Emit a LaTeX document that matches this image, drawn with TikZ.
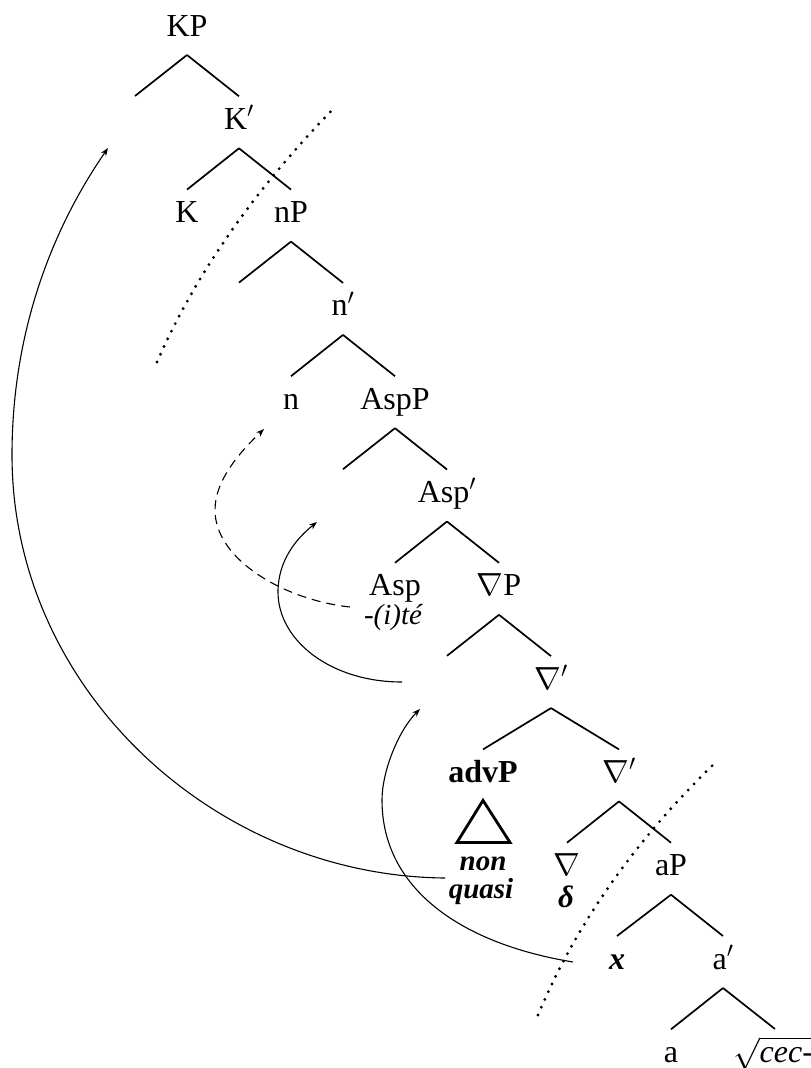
\RequirePackage{fix-cm}
\documentclass[tikz,border=0pt]{standalone}
\usepackage{fontspec}
\setmainfont{Liberation Serif}
\usetikzlibrary{calc,arrows.meta}
\newcommand\tbr[2]{\draw[edge] ($(#1.base)+(0,19)$) -- ($(#2.base)+(0,-33)$);}
\begin{document}
\begin{tikzpicture}[x=1pt,y=-1pt,
  lbl/.style={anchor=base,inner sep=0pt,font=\fontsize{32}{36}\selectfont},
  edge/.style={line width=1.7pt},
  mv/.style={line width=1.1pt,-{Stealth[length=8pt,width=6pt]}},
  dmv/.style={mv,dash pattern=on 9pt off 6pt},
  dots/.style={line width=3.2pt,line cap=round,dash pattern=on 0pt off 8.5pt},
  tri/.style={line width=2.8pt,line join=miter}]
\useasboundingbox (0,0) rectangle (811,1068);
% nodes
\node[lbl] (KP) at (187,36) {KP};
\coordinate (KPspec) at (135,96);
\node[lbl] (Kb) at (239,129.3) {K$'$};
\node[lbl] (K) at (187,222.6) {K};
\node[lbl] (nP) at (291,222.6) {nP};
\node[lbl] (nb) at (343,315.9) {n$'$};
\node[lbl] (n) at (291,409.2) {n};
\node[lbl] (AspP) at (395,409.2) {AspP};
\node[lbl] (Aspb) at (447,502.5) {Asp$'$};
\node[lbl] (Asp) at (395,595.8) {Asp};
\node[lbl,font=\fontsize{29}{33}\selectfont\itshape] (Aff) at (393,624) {-(i)té};
\node[lbl] (NP) at (499,595.8) {$\nabla$P};
\node[lbl] (Nb) at (551,689.1) {$\nabla'$};
\node[lbl,font=\fontsize{32}{36}\selectfont\bfseries] (advP) at (483,782.4) {advP};
\node[lbl,font=\fontsize{29}{33}\selectfont\bfseries\itshape] (non) at (483,870) {non};
\node[lbl,font=\fontsize{29}{33}\selectfont\bfseries\itshape] (quasi) at (481,898) {quasi};
\node[lbl] (Nbb) at (619,782.4) {$\nabla'$};
\node[lbl] (N) at (567,875.7) {$\nabla$};
\node[lbl,font=\fontsize{31}{35}\selectfont\bfseries\itshape] (delta) at (566,907) {δ};
\node[lbl] (aP) at (671,875.7) {aP};
\node[lbl,font=\fontsize{32}{36}\selectfont\bfseries\itshape] (x) at (617,969) {x};
\node[lbl] (ab) at (723,969) {a$'$};
\node[lbl] (a) at (671,1062.3) {a};
\node[lbl] (root) at (773,1062.3) {$\sqrt{\mbox{\itshape cec-}}$};
% branches
\draw[edge] ($(KP.base)+(0,19)$) -- (KPspec);
\tbr{KP}{Kb}
\tbr{Kb}{K}
\tbr{Kb}{nP}
\draw[edge] ($(nP.base)+(0,19)$) -- ++(-52,41);
\tbr{nP}{nb}
\tbr{nb}{n}
\tbr{nb}{AspP}
\draw[edge] ($(AspP.base)+(0,19)$) -- ++(-52,41);
\tbr{AspP}{Aspb}
\tbr{Aspb}{Asp}
\tbr{Aspb}{NP}
\draw[edge] ($(NP.base)+(0,19)$) -- ++(-52,41);
\tbr{NP}{Nb}
\tbr{Nb}{advP}
\tbr{Nb}{Nbb}
\tbr{Nbb}{N}
\tbr{Nbb}{aP}
\tbr{aP}{x}
\tbr{aP}{ab}
\tbr{ab}{a}
\draw[edge] ($(ab.base)+(0,19)$) -- ++(52,41);
% triangle
\draw[tri] ($(advP.base)+(0,18)$) -- ($(advP.base)+(-26,60)$) -- ($(advP.base)+(27,60)$) -- cycle;
% dotted boundaries
\draw[dots] (157,362) .. controls (196,273) and (256,188) .. (335,107);
\draw[dots] (538,1015) .. controls (576,924) and (636,839) .. (717,761);
% movement arrows
\coordinate (m1s) at (445,878);
\coordinate (m1e) at (108,148);
\draw[mv] (m1s) .. controls (215,876) and (12,690) .. (12,455) .. controls (12,335) and (50,232) .. (m1e);
\coordinate (m2s) at (573,962);
\coordinate (m2e) at (420,709);
\draw[mv] (m2s) .. controls (463,944) and (382,890) .. (382,800) .. controls (382,772) and (398,731) .. (m2e);
\coordinate (m3s) at (402,682);
\coordinate (m3e) at (317,522);
\draw[mv] (m3s) .. controls (330,682) and (278,640) .. (278,592) .. controls (278,560) and (297,538) .. (m3e);
\coordinate (m4s) at (350,607);
\coordinate (m4e) at (264,429);
\draw[dmv] (m4s) .. controls (285,600) and (215,560) .. (215,510) .. controls (215,480) and (240,452) .. (m4e);
\end{tikzpicture}
\end{document}
